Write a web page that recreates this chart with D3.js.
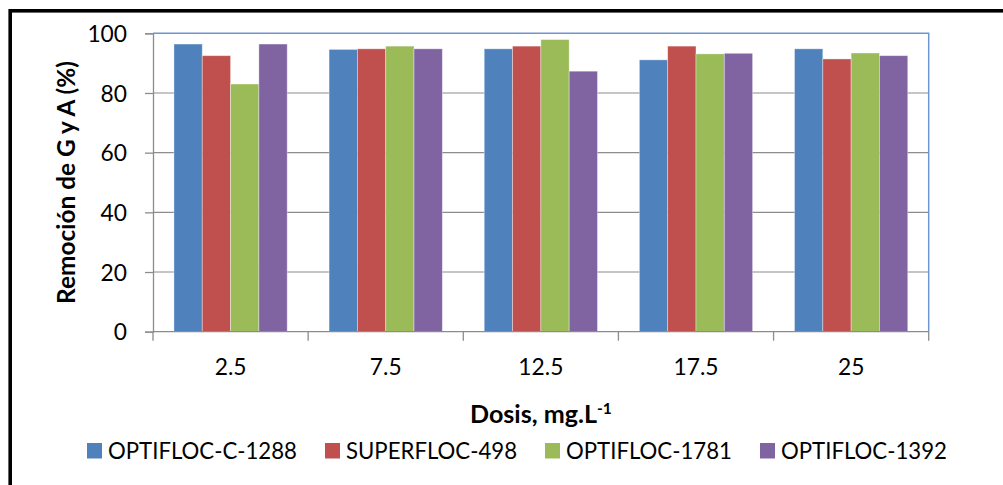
<!DOCTYPE html>
<html><head><meta charset="utf-8">
<script src="https://cdn.jsdelivr.net/npm/d3@7"></script>
<style>
html,body{margin:0;padding:0;background:#fff;}
svg{display:block;font-family:Lato, "Liberation Sans", sans-serif;}
</style></head>
<body>
<svg id="chart" width="1003" height="485"></svg>
<script>
const categories = ["2.5", "7.5", "12.5", "17.5", "25"];
const seriesNames = ["OPTIFLOC-C-1288", "SUPERFLOC-498", "OPTIFLOC-1781", "OPTIFLOC-1392"];
const optiflocC1288 = [96.4, 94.6, 94.8, 91.1, 94.8];
const superfloc498 = [92.5, 94.8, 95.7, 95.7, 91.4];
const optifloc1781 = [83.0, 95.7, 97.9, 93.1, 93.4];
const optifloc1392 = [96.4, 94.8, 87.3, 93.3, 92.5];
const yTicks = [0, 20, 40, 60, 80, 100];
const colors = ["#4f81bd", "#c0504d", "#9bbb59", "#8064a2"];

const seriesValues = [optiflocC1288, superfloc498, optifloc1781, optifloc1392];
const svg = d3.select("#chart");

// size a font so that a sample text reaches a target width
function fitSize(sample, target, weight) {
  const t = svg.append("text").attr("font-size", 100).attr("font-weight", weight || "normal").text(sample);
  const w = t.node().getComputedTextLength();
  t.remove();
  return 100 * target / w;
}
const tickSize = fitSize("12.5", 45);
const legSize = fitSize("OPTIFLOC-C-1288", 189);
const yTitleSize = fitSize("Remoción de G y A (%)", 243, "bold");
const xTitleSize = fitSize("Dosis, mg.L", 127, "bold");

const L = 153, R = 928.7, T = 33.3, B = 331.7;
const x0 = d3.scaleBand().domain(categories).range([L, R]).padding(0);
const gap = x0.bandwidth() * 0.135;
const x1 = d3.scaleBand().domain(seriesNames).range([gap, x0.bandwidth() - gap]).padding(0);
const y = d3.scaleLinear().domain([0, 100]).range([B, T]);

// outer frame
svg.append("rect").attr("x", 10.2).attr("y", 10.8).attr("width", 1200).attr("height", 800)
  .attr("fill", "none").attr("stroke", "#000").attr("stroke-width", 3.6);

// gridlines
svg.append("g").selectAll("line").data(yTicks.filter(d => d > 0 && d < 100)).join("line")
  .attr("x1", L).attr("x2", R).attr("y1", d => y(d)).attr("y2", d => y(d))
  .attr("stroke", "#8c8c8c").attr("stroke-width", 1.2);

// bars
const groups = svg.append("g").selectAll("g").data(categories).join("g")
  .attr("transform", d => `translate(${x0(d)},0)`);
groups.selectAll("rect").data((c, ci) => seriesNames.map((s, si) => ({s, si, v: seriesValues[si][ci]}))).join("rect")
  .attr("x", d => x1(d.s)).attr("width", x1.bandwidth())
  .attr("y", d => y(d.v)).attr("height", d => B - y(d.v))
  .attr("fill", d => colors[d.si])
  .attr("stroke", "rgba(255,255,255,0.45)").attr("stroke-width", 0.8);

// plot border (top and right)
svg.append("path").attr("d", `M${L},${T}H${R}V${B}`).attr("fill", "none")
  .attr("stroke", "#6f96cf").attr("stroke-width", 1.5);

// y axis
const yAxis = svg.append("g").attr("transform", `translate(${L},0)`)
  .call(d3.axisLeft(y).tickValues(yTicks).tickSize(8).tickPadding(18).tickFormat(d3.format("d")));
yAxis.select(".domain").attr("stroke", "#8c8c8c").attr("stroke-width", 1.3);
yAxis.selectAll(".tick line").attr("stroke", "#8c8c8c").attr("stroke-width", 1.3);
yAxis.selectAll(".tick text").attr("font-size", tickSize).attr("fill", "#000").attr("font-family", "Lato")
  .attr("dy", "0.36em");

// x axis
const xAxis = svg.append("g").attr("transform", `translate(0,${B})`)
  .call(d3.axisBottom(x0).tickSize(0).tickPadding(0));
xAxis.select(".domain").remove();
xAxis.append("line").attr("x1", L).attr("x2", R).attr("stroke", "#8c8c8c").attr("stroke-width", 1.3);
const bounds = categories.map(c => x0(c)).concat([R]);
xAxis.selectAll(".bnd").data(bounds).join("line").attr("class", "bnd")
  .attr("x1", d => d).attr("x2", d => d).attr("y1", 0).attr("y2", 9)
  .attr("stroke", "#8c8c8c").attr("stroke-width", 1.3);
xAxis.selectAll(".tick text").attr("font-size", tickSize).attr("fill", "#000")
  .attr("font-family", "Lato").attr("dy", null).attr("y", 43.5);

// axis titles
const xt = svg.append("text").attr("x", 470).attr("y", 423)
  .attr("font-weight", "bold").attr("font-size", xTitleSize).attr("fill", "#000");
xt.append("tspan").text("Dosis, mg.L");
xt.append("tspan").text("-1").attr("font-size", xTitleSize * 0.62).attr("dy", -9);

svg.append("text").attr("transform", `translate(75,${(T + B) / 2}) rotate(-90)`)
  .attr("text-anchor", "middle").attr("font-weight", "bold").attr("font-size", yTitleSize).attr("fill", "#000")
  .text("Remoción de G y A (%)");

// legend
const legX = [87, 325, 545, 760];
const leg = svg.append("g").selectAll("g").data(seriesNames).join("g")
  .attr("transform", (d, i) => `translate(${legX[i]},443)`);
leg.append("rect").attr("width", 15).attr("height", 15.5).attr("fill", (d, i) => colors[i]);
leg.append("text").attr("x", 21).attr("y", 15.5).attr("font-size", legSize).attr("fill", "#000").text(d => d);
</script>
</body></html>
